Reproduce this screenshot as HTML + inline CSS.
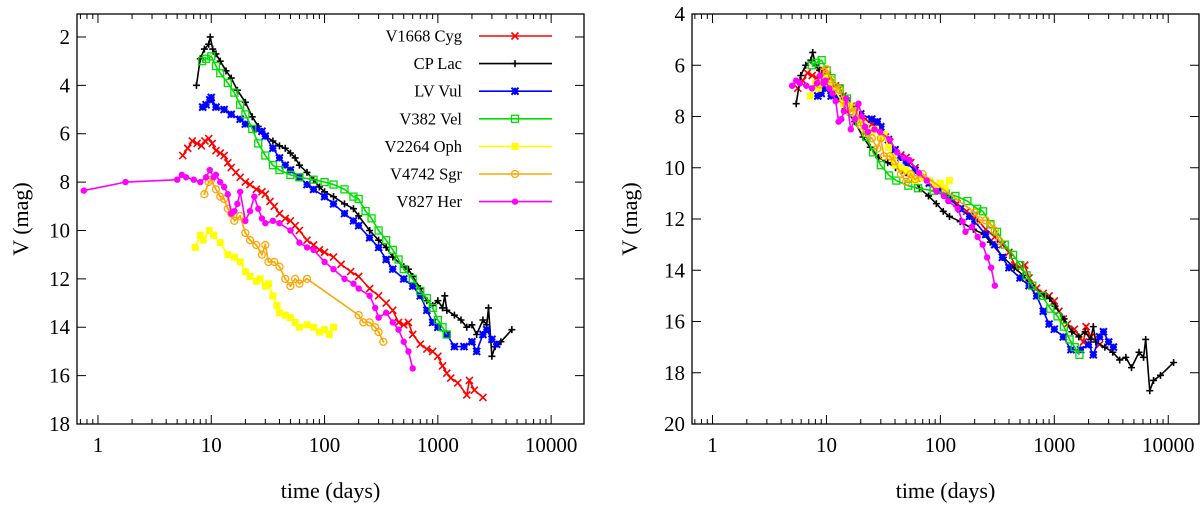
<!DOCTYPE html>
<html><head><meta charset="utf-8">
<style>
html,body{margin:0;padding:0;background:#fff;}
svg{display:block;font-family:"Liberation Serif",serif;}
</style></head>
<body>
<svg id="chart" width="1200" height="506" viewBox="0 0 1200 506" xmlns="http://www.w3.org/2000/svg"></svg>
<script>
// ---- data (time in days, V magnitude) ----
const novaNames = ["V1668 Cyg","CP Lac","LV Vul","V382 Vel","V2264 Oph","V4742 Sgr","V827 Her"];
const novaColors = ["#ff0000","#000000","#0000ff","#00dd00","#ffff00","#ffa500","#ff00ff"];
const novaMarkers = ["x","plus","star","square","fsquare","circle","dot"];
const cygT = [5.6,6.2,6.8,7.5,8.2,8.8,9.5,10.2,11,12,13,14,15,16.5,18,20,22,25,28,30,33,36,40,45,50,55,60,70,80,90,100,120,140,170,200,250,300,350,400,450,500,550,600,700,800,900,1000,1100,1200,1300,1500,1800,1900,2100,2500];
const cygV = [6.9,6.6,6.3,6.4,6.5,6.3,6.2,6.4,6.7,6.8,6.9,7.2,7.4,7.6,7.8,8.0,8.1,8.3,8.4,8.5,8.8,9.0,9.3,9.5,9.6,9.8,10.0,10.4,10.6,10.8,10.9,11.1,11.4,11.7,11.9,12.4,12.7,13.0,13.3,13.8,13.9,13.8,14.3,14.7,14.9,15.0,15.2,15.6,15.9,16.1,16.3,16.8,16.2,16.6,16.9];
const lacT = [7.4,8.0,8.7,9.5,9.8,10.3,11,12,13.5,15,17,20,23,26,30,35,40,45,50,55,60,70,80,90,100,120,150,180,200,250,300,350,400,500,550,600,700,800,900,1000,1100,1150,1200,1400,1600,1800,2000,2200,2500,2700,2800,3000,3200,3600,4500];
const lacV = [4.0,2.9,2.5,2.3,2.0,2.5,2.7,3.0,3.4,3.7,4.2,4.7,5.3,5.7,6.1,6.3,6.5,6.6,6.8,7.0,7.3,7.6,7.9,8.2,8.4,8.6,8.9,9.1,9.4,10.0,10.4,10.7,11.1,11.5,11.6,11.9,12.4,12.9,13.1,12.9,13.2,12.7,13.3,13.5,13.7,14.0,13.9,14.3,13.7,13.9,13.2,15.2,14.8,14.6,14.1];
const vulT = [8.4,9,9.7,10,11,13,15,18,20,25,28,30,35,40,45,50,60,70,80,100,120,150,180,200,250,300,350,400,500,600,700,800,900,1000,1200,1400,1700,2000,2200,2500,2700,3000,3300];
const vulV = [4.9,4.8,4.6,4.5,4.9,5.0,5.2,5.4,5.6,5.8,5.9,6.1,6.6,7.0,7.3,7.5,7.8,8.1,8.3,8.6,8.9,9.3,9.6,9.8,10.3,10.7,11.2,11.6,12.0,12.3,12.7,13.3,13.8,14.0,14.3,14.8,14.8,14.6,15.0,14.3,14.1,14.5,14.7];
const velT = [8.3,9,10,11,12,14,16,18,20,23,26,30,35,40,50,60,80,100,120,150,180,200,230,260,300,350,400,450,500,600,700,800,900,1000,1100,1200];
const velV = [3.0,2.9,2.8,3.2,3.5,3.9,4.3,4.8,5.2,5.8,6.4,6.9,7.3,7.5,7.7,7.8,7.9,8.0,8.1,8.3,8.6,8.7,9.2,9.5,10.0,10.4,10.8,11.2,11.6,12.0,12.5,12.8,13.2,13.7,14.0,14.3];
const ophT = [7.2,8,8.5,9.6,10.5,12,14,16,18,20,22,25,27,30,32,35,38,40,45,50,55,60,70,80,90,100,110,120];
const ophV = [10.7,10.2,10.4,10.0,10.2,10.5,11.0,11.1,11.3,11.7,11.9,12.1,12.0,12.3,12.2,12.7,13.1,13.4,13.5,13.6,13.8,14.0,13.9,14.0,14.2,14.1,14.3,14.0];
const sgrT = [8.7,9.5,10,11,12,13,14,15,16,18,20,22,25,28,30,32,36,40,45,50,55,60,70,200,220,250,280,300,330];
const sgrV = [8.5,8.0,7.9,8.3,8.6,8.7,9.1,9.3,9.6,9.4,10.1,10.4,10.6,11.0,10.6,11.3,11.3,11.5,12.0,12.3,12.0,12.2,12.0,13.5,13.8,13.8,14.0,14.2,14.6];
const herT = [0.75,1.75,5.0,5.5,6,7,8,9,9.7,10.5,11,12,13,14,15,16,17,18,20,22,24,26,28,30,35,40,50,60,70,80,100,120,150,180,200,250,280,300,350,400,450,500,550,600];
const herV = [8.35,8.0,7.9,7.7,7.8,7.9,8.0,7.8,7.5,7.8,7.7,8.0,8.2,8.5,9.3,9.2,8.9,8.4,9.6,9.2,8.6,9.1,9.5,9.7,9.6,9.7,10.0,10.5,10.7,10.8,11.3,11.6,12.0,12.2,12.4,12.7,13.2,13.6,13.4,13.8,14.1,14.6,15.0,15.7];
const seriesT = [cygT,lacT,vulT,velT,ophT,sgrT,herT];
const seriesV = [cygV,lacV,vulV,velV,ophV,sgrV,herV];
// right panel: scaling per nova (log t' = logOffset + logStretch*log t ; V' = V + magShift)
const logOffset = [0,-0.30,0,-0.13,0,0,0.10];
const logStretch = [1,1.19,1,1.088,1,1,0.856];
const magShift = [0,3.5,2.3,3.0,-3.5,-1.75,-1.1];
const xTickLabels = ["1","10","100","1000","10000"];
const xTickValues = [1,10,100,1000,10000];
const yTicksLeft = [2,4,6,8,10,12,14,16,18];
const yTicksRight = [4,6,8,10,12,14,16,18,20];

const NS="http://www.w3.org/2000/svg";
const svg=document.getElementById('chart');
function mk(tag,attrs,parent){const e=document.createElementNS(NS,tag);for(const k in attrs)e.setAttribute(k,attrs[k]);(parent||svg).appendChild(e);return e;}

function makePanel(p){
  const g=mk('g',{});
  
  
  const X=t=>p.left+(Math.log10(t)-p.logMin)/(p.logMax-p.logMin)*(p.right-p.left);
  const Y=m=>p.top+(m-p.magMin)/(p.magMax-p.magMin)*(p.bottom-p.top);
  const clipId='clip'+p.name;
  const cp=mk('clipPath',{id:clipId},g);mk('rect',{x:p.left,y:p.top,width:p.right-p.left,height:p.bottom-p.top},cp);
  const tg=mk('g',{stroke:'#000','stroke-width':1},g);
  
  
  for(let d=-1;d<=4;d++){for(let k=1;k<=9;k++){const t=k*Math.pow(10,d);const lg=Math.log10(t);if(lg<p.logMin||lg>p.logMax)continue;const x=X(t);const L=k===1?9:5;
    mk('line',{x1:x,y1:p.bottom,x2:x,y2:p.bottom-L},tg);mk('line',{x1:x,y1:p.top,x2:x,y2:p.top+L},tg);}}
  p.yTicks.forEach(m=>{const y=Y(m);mk('line',{x1:p.left,y1:y,x2:p.left+9,y2:y},tg);mk('line',{x1:p.right,y1:y,x2:p.right-9,y2:y},tg);
    const tl=mk('text',{x:p.left-7,y:y+7,'text-anchor':'end','font-size':21},g);tl.textContent=m;
    
    });
  xTickValues.forEach((v,i)=>{const tl=mk('text',{x:X(v),y:452,'text-anchor':'middle','font-size':21},g);tl.textContent=xTickLabels[i];
    
    });
  const yt=mk('text',{x:0,y:0,'text-anchor':'middle','font-size':22,transform:`translate(${p.ylabX},${(p.top+p.bottom)/2}) rotate(-90)`},g);yt.textContent='V (mag)';
  
  
  const xt=mk('text',{x:(p.left+p.right)/2,y:498,'text-anchor':'middle','font-size':22},g);xt.textContent='time (days)';
  
  
  const sg=mk('g',{'clip-path':`url(#${clipId})`},g);
  for(let s=0;s<novaNames.length;s++){
    const pts=[];
    for(let i=0;i<seriesT[s].length;i++){
      let t=seriesT[s][i],v=seriesV[s][i];
      if(p.scaled){const lt=logOffset[s]+logStretch[s]*Math.log10(t);if(lt<0.6)continue;t=Math.pow(10,lt);v=v+magShift[s];}
      pts.push([X(t),Y(v)]);
    }
    const sgg=mk('g',{},sg);
    
    
    mk('polyline',{points:pts.map(q=>q.join(',')).join(' '),fill:'none',stroke:novaColors[s],'stroke-width':1.6},sgg);
    pts.forEach(q=>drawMarker(sgg,novaMarkers[s],q[0],q[1],novaColors[s]));
  }
  mk('rect',{x:p.left,y:p.top,width:p.right-p.left,height:p.bottom-p.top,fill:'none',stroke:'#000','stroke-width':1.3},g);
  return g;
}
function drawMarker(g,type,x,y,c){
  const r=3.5;
  if(type==='x'){mk('path',{d:`M${x-r},${y-r}L${x+r},${y+r}M${x-r},${y+r}L${x+r},${y-r}`,stroke:c,'stroke-width':1.6},g);}
  else if(type==='plus'){mk('path',{d:`M${x-r},${y}L${x+r},${y}M${x},${y-r}L${x},${y+r}`,stroke:c,'stroke-width':1.6},g);}
  else if(type==='star'){mk('path',{d:`M${x-r},${y-r}L${x+r},${y+r}M${x-r},${y+r}L${x+r},${y-r}M${x-r},${y}L${x+r},${y}M${x},${y-r}L${x},${y+r}`,stroke:c,'stroke-width':2},g);}
  else if(type==='square'){mk('rect',{x:x-r,y:y-r,width:2*r,height:2*r,fill:'none',stroke:c,'stroke-width':1.3},g);}
  else if(type==='fsquare'){mk('rect',{x:x-r,y:y-r,width:2*r,height:2*r,fill:c},g);}
  else if(type==='circle'){mk('circle',{cx:x,cy:y,r:r,fill:'none',stroke:c,'stroke-width':1.3},g);mk('circle',{cx:x,cy:y,r:1,fill:c},g);}
  else if(type==='dot'){mk('circle',{cx:x,cy:y,r:3.2,fill:c},g);}
}
makePanel({name:'left-panel',left:77,right:584,top:14,bottom:424,logMin:-0.185,logMax:4.29,magMin:1.05,magMax:18,yTicks:yTicksLeft,ylabX:28,scaled:false});
makePanel({name:'right-panel',left:692,right:1199,top:14,bottom:424,logMin:-0.18,logMax:4.27,magMin:4,magMax:20,yTicks:yTicksRight,ylabX:637,scaled:true});
const lg=mk('g',{});


for(let s=0;s<novaNames.length;s++){
  const y=36+s*27.6;
  const e=mk('g',{},lg);
  
  
  const t=mk('text',{x:462,y:y+5.5,'text-anchor':'end','font-size':16.5},e);t.textContent=novaNames[s];
  mk('line',{x1:479,y1:y,x2:552,y2:y,stroke:novaColors[s],'stroke-width':1.6},e);
  drawMarker(e,novaMarkers[s],515,y,novaColors[s]);
}
</script>
</body></html>
